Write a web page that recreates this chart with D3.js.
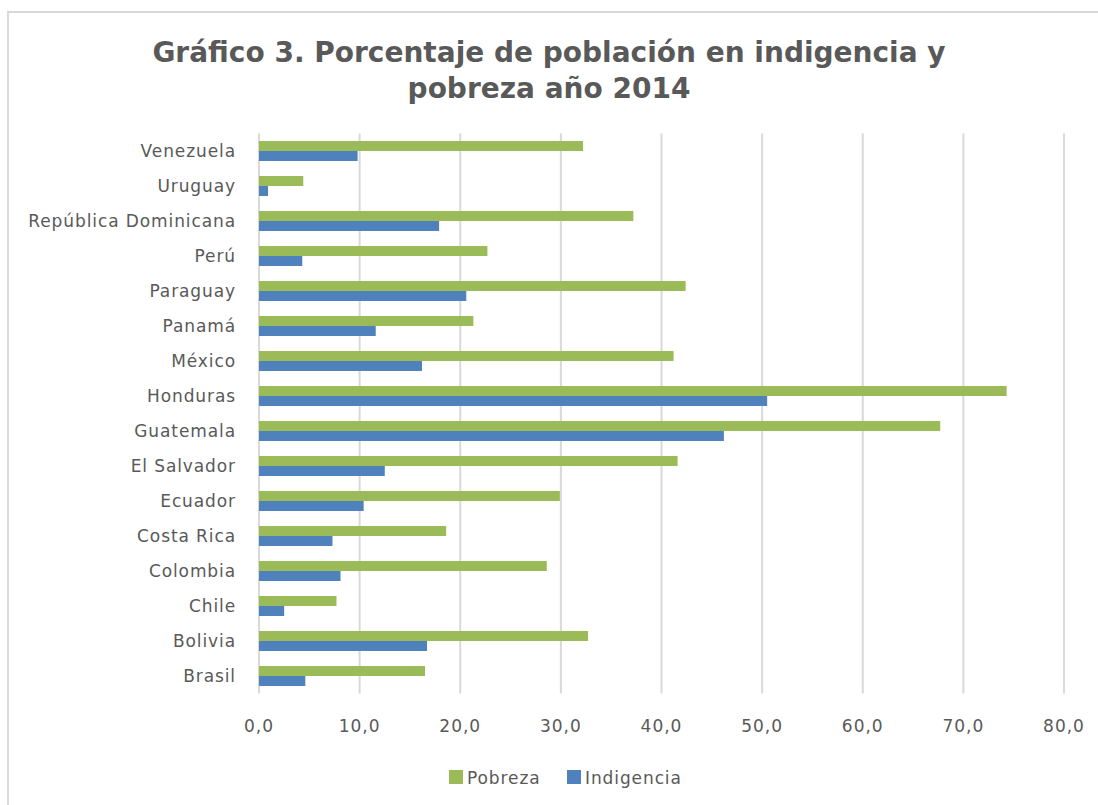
<!DOCTYPE html>
<html>
<head>
<meta charset="utf-8">
<script src="https://cdn.jsdelivr.net/npm/d3@7"></script>
<style>
  body { margin: 0; background: #fff; }
  text { font-family: "DejaVu Sans", Verdana, sans-serif; fill: #595959; }
</style>
</head>
<body>
<svg id="chart" width="1098" height="805"></svg>
<script>
// categories, top to bottom as shown
const countries = ['Venezuela', 'Uruguay', 'República Dominicana', 'Perú', 'Paraguay', 'Panamá',
  'México', 'Honduras', 'Guatemala', 'El Salvador', 'Ecuador', 'Costa Rica', 'Colombia',
  'Chile', 'Bolivia', 'Brasil'];
const pobreza    = [32.2, 4.4, 37.2, 22.7, 42.4, 21.3, 41.2, 74.3, 67.7, 41.6, 29.9, 18.6, 28.6, 7.7, 32.7, 16.5];
const indigencia = [9.8, 0.9, 17.9, 4.3, 20.6, 11.6, 16.2, 50.5, 46.2, 12.5, 10.4, 7.3, 8.1, 2.5, 16.7, 4.6];
const series = ['Pobreza', 'Indigencia'];
const colors = ['#9bbb59', '#4f81bd'];
const xTicks = [0, 10, 20, 30, 40, 50, 60, 70, 80];
const titleLines = ['Gráfico 3. Porcentaje de población en indigencia y', 'pobreza año 2014'];

const svg = d3.select('#chart');
const plotLeft = 259, plotRight = 1064, plotTop = 133.5, plotBottom = 693.5;

// frame
svg.append('rect')
  .attr('x', 8).attr('y', 12).attr('width', 1100).attr('height', 820)
  .attr('fill', 'none').attr('stroke', '#d9d9d9').attr('stroke-width', 2);

svg.selectAll('.title').data(titleLines).enter().append('text')
  .attr('class', 'title')
  .attr('x', 549).attr('y', (d, i) => 62 + i * 36)
  .attr('text-anchor', 'middle')
  .style('font-size', '28px').style('font-weight', 'bold')
  .text(d => d);

const x = d3.scaleLinear().domain([0, 80]).range([plotLeft, plotRight]);
const y0 = d3.scaleBand().domain(countries).range([plotTop, plotBottom]).paddingInner(0.43).paddingOuter(0.215);
const y1 = d3.scaleBand().domain(series).range([0, y0.bandwidth()]);
const color = d3.scaleOrdinal().domain(series).range(colors);

// gridlines
svg.append('g').selectAll('line').data(xTicks).enter().append('line')
  .attr('x1', d => x(d)).attr('x2', d => x(d))
  .attr('y1', plotTop).attr('y2', plotBottom)
  .attr('stroke', '#d9d9d9').attr('stroke-width', 2);

// x tick labels
svg.append('g').selectAll('text').data(xTicks).enter().append('text')
  .attr('x', d => x(d)).attr('y', 732)
  .attr('text-anchor', 'middle')
  .style('font-size', '17px').style('letter-spacing', '1px')
  .text(d => d3.format('.1f')(d).replace('.', ','));

// category labels
svg.append('g').selectAll('text').data(countries).enter().append('text')
  .attr('x', 236).attr('y', d => y0(d) + y0.bandwidth() / 2)
  .attr('dy', '0.35em')
  .attr('text-anchor', 'end')
  .style('font-size', '17px').style('letter-spacing', '0.9px')
  .text(d => d);

// bars
const rows = countries.map((c, i) => ({ country: c, Pobreza: pobreza[i], Indigencia: indigencia[i] }));
svg.append('g').selectAll('g').data(rows).enter().append('g')
  .attr('transform', d => `translate(0,${y0(d.country)})`)
  .selectAll('rect')
  .data(d => series.map(s => ({ key: s, value: d[s] })))
  .enter().append('rect')
  .attr('x', x(0))
  .attr('y', d => y1(d.key))
  .attr('width', d => x(d.value) - x(0))
  .attr('height', y1.bandwidth())
  .attr('fill', d => color(d.key));

// legend
const legendX = [449, 567];
const lg = svg.append('g').selectAll('g').data(series).enter().append('g')
  .attr('transform', (d, i) => `translate(${legendX[i]},770)`);
lg.append('rect').attr('width', 14).attr('height', 14).attr('fill', d => color(d));
lg.append('text').attr('x', 18).attr('y', 14)
  .style('font-size', '17px').style('letter-spacing', '0.9px')
  .text(d => d);
</script>
</body>
</html>
